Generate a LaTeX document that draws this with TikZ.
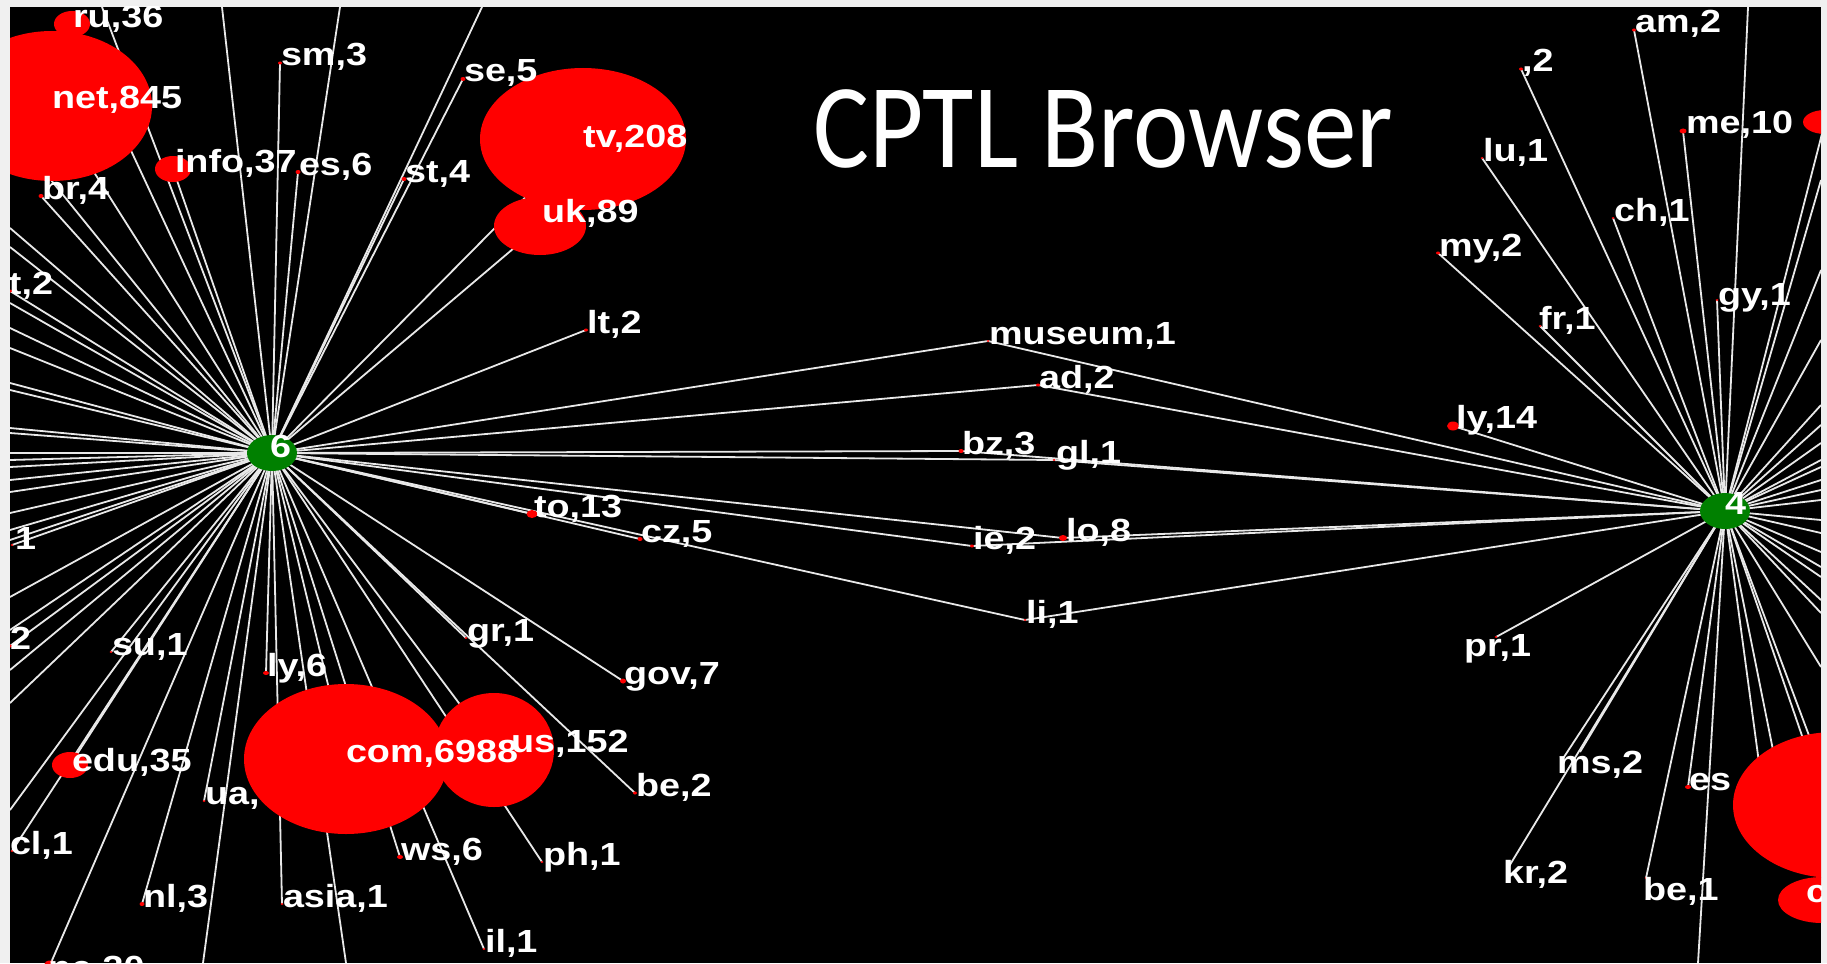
\documentclass[tikz,border=0pt]{standalone}
\usepackage{fontspec}
\setmainfont{Liberation Sans}
\newfontfamily\lblfont[FakeStretch=1.18]{Liberation Sans}
\newfontfamily\titlefont[FakeStretch=0.875]{Carlito}
\usetikzlibrary{shapes.geometric}
\definecolor{framegray}{RGB}{240,240,240}
\definecolor{linkgray}{RGB}{232,232,232}
\definecolor{hubgreen}{RGB}{0,128,0}
\definecolor{blobred}{RGB}{255,0,0}
\pgfdeclarelayer{back}
\pgfdeclarelayer{links}
\pgfsetlayers{back,links,main}
\tikzset{
  lnk/.style={draw=linkgray, line width=1.8pt},
  lbl/.style={anchor=base west, inner sep=0pt, outer sep=0pt, text=white, font=\lblfont\bfseries\fontsize{32}{32}\selectfont},
  hub/.style={ellipse, fill=hubgreen, minimum width=50pt, minimum height=36pt, inner sep=0pt},
  blob/.style={ellipse, fill=blobred, inner sep=0pt, outer sep=0pt},
  ttl/.style={anchor=base, inner sep=0pt, text=white, font=\titlefont\fontsize{120}{120}\selectfont},
}
\newcommand\dotnode[5]{\node[blob,minimum width=#4pt,minimum height=#5pt] (#1) at (#2,#3) {};}
\begin{document}
\begin{tikzpicture}[x=1pt,y=-1pt]
\useasboundingbox (0,0) rectangle (1827,963);
\begin{pgfonlayer}{back}
\fill[framegray] (0,0) rectangle (1827,963);
\fill[black] (10,7) rectangle (1821,963);
\end{pgfonlayer}
\begin{scope}
\clip (10,7) rectangle (1821,963);
% hubs
\node[hub] (h6) at (272,453) {};
\node[hub] (h4) at (1725,511) {};
\node[lbl] (h6-t) at (270,457) {6};
\node[lbl] (h4-t) at (1725,514) {4};
% label drawn beneath the com circle
\node[lbl] (ua-t) at (205,804) {ua,};
% blobs, left hub
\dotnode{ru}{72}{24}{36}{26}
\dotnode{net}{52}{106}{200}{150}
\dotnode{info}{173}{169}{36}{26}
\dotnode{sm}{280}{63}{4}{3}
\dotnode{es6}{298}{172}{5}{4}
\dotnode{se}{463}{79}{5}{4}
\dotnode{st}{404}{179}{5}{4}
\dotnode{tv}{583}{139}{206}{142}
\dotnode{uk}{540}{226}{92}{58}
\dotnode{br}{41}{196}{5}{4}
\dotnode{t2}{10}{291}{4}{3}
\dotnode{lt}{586}{330}{4}{3}
\dotnode{museum}{988}{341}{3}{2}
\dotnode{ad}{1038}{385}{4}{3}
\dotnode{bz}{961}{451}{5}{4}
\dotnode{gl}{1054}{460}{3}{2}
\dotnode{to}{532}{514}{11}{8}
\dotnode{cz}{640}{539}{5}{4}
\dotnode{ie}{972}{546}{4}{3}
\dotnode{lo}{1063}{538}{8}{6}
\dotnode{li}{1025}{620}{3}{2}
\dotnode{one}{12}{545}{3}{2}
\dotnode{two}{10}{646}{4}{3}
\dotnode{su}{111}{652}{3}{2}
\dotnode{ly6}{266}{673}{6}{4}
\dotnode{gr}{466}{638}{3}{2}
\dotnode{gov}{623}{681}{6}{5}
\dotnode{us}{494}{750}{120}{114}
\dotnode{com}{346}{759}{204}{150}
\dotnode{edu}{70}{765}{36}{26}
\dotnode{ua}{204}{801}{3}{2}
\dotnode{be2}{635}{793}{4}{3}
\dotnode{cl}{12}{851}{3}{2}
\dotnode{ws}{400}{857}{6}{4}
\dotnode{ph}{542}{862}{3}{2}
\dotnode{nl}{142}{904}{5}{4}
\dotnode{asia}{282}{904}{3}{2}
\dotnode{il}{484}{949}{3}{2}
\dotnode{ne}{50}{965}{12}{9}
% blobs, right hub
\dotnode{cm2}{1521}{69}{4}{3}
\dotnode{am}{1634}{30}{4}{3}
\dotnode{me}{1683}{131}{7}{5}
\dotnode{lu}{1482}{158}{3}{2}
\dotnode{ch}{1613}{218}{3}{2}
\dotnode{my}{1438}{253}{4}{3}
\dotnode{gy}{1717}{300}{3}{2}
\dotnode{fr}{1540}{326}{3}{2}
\dotnode{ly14}{1453}{426}{12}{9}
\dotnode{pr}{1496}{637}{3}{2}
\dotnode{ms}{1562}{760}{4}{3}
\dotnode{kr}{1508}{868}{4}{3}
\dotnode{es4}{1688}{787}{6}{4}
\dotnode{be1}{1646}{878}{3}{2}
\dotnode{bigR}{1835}{805}{204}{146}
\dotnode{smR}{1822}{900}{88}{46}
\dotnode{meR}{1825}{122}{44}{24}
% labels
\node[lbl] (ru-t) at (73,28) {ru,36};
\node[lbl] (net-t) at (52,109) {net,845};
\node[lbl] (info-t) at (175,172) {info,37};
\node[lbl] (sm-t) at (281,66) {sm,3};
\node[lbl] (es6-t) at (299,175) {es,6};
\node[lbl] (se-t) at (464,82) {se,5};
\node[lbl] (st-t) at (405,182) {st,4};
\node[lbl] (tv-t) at (583,147) {tv,208};
\node[lbl] (uk-t) at (542,222) {uk,89};
\node[lbl] (br-t) at (42,199) {br,4};
\node[lbl] (t2-t) at (9,294) {t,2};
\node[lbl] (lt-t) at (587,333) {lt,2};
\node[lbl] (museum-t) at (989,344) {museum,1};
\node[lbl] (ad-t) at (1039,388) {ad,2};
\node[lbl] (bz-t) at (962,454) {bz,3};
\node[lbl] (gl-t) at (1056,463) {gl,1};
\node[lbl] (to-t) at (534,517) {to,13};
\node[lbl] (cz-t) at (641,542) {cz,5};
\node[lbl] (ie-t) at (973,549) {ie,2};
\node[lbl] (lo-t) at (1066,541) {lo,8};
\node[lbl] (li-t) at (1026,623) {li,1};
\node[lbl] (one-t) at (15,549) {1};
\node[lbl] (two-t) at (10,649) {2};
\node[lbl] (su-t) at (112,655) {su,1};
\node[lbl] (ly6-t) at (267,676) {ly,6};
\node[lbl] (gr-t) at (467,641) {gr,1};
\node[lbl] (gov-t) at (624,684) {gov,7};
\node[lbl] (us-t) at (511,752) {us,152};
\node[lbl] (com-t) at (346,762) {com,6988};
\node[lbl] (edu-t) at (72,771) {edu,35};
\node[lbl] (be2-t) at (636,796) {be,2};
\node[lbl] (cl-t) at (10,854) {cl,1};
\node[lbl] (ws-t) at (401,860) {ws,6};
\node[lbl] (ph-t) at (543,865) {ph,1};
\node[lbl] (nl-t) at (143,907) {nl,3};
\node[lbl] (asia-t) at (283,907) {asia,1};
\node[lbl] (il-t) at (485,952) {il,1};
\node[lbl] (ne-t) at (48,978) {ne,30};
\node[lbl] (cm2-t) at (1522,72) {,2};
\node[lbl] (am-t) at (1635,33) {am,2};
\node[lbl] (me-t) at (1686,134) {me,10};
\node[lbl] (lu-t) at (1483,161) {lu,1};
\node[lbl] (ch-t) at (1614,221) {ch,1};
\node[lbl] (my-t) at (1439,256) {my,2};
\node[lbl] (gy-t) at (1718,305) {gy,1};
\node[lbl] (fr-t) at (1539,329) {fr,1};
\node[lbl] (ly14-t) at (1456,428) {ly,14};
\node[lbl] (pr-t) at (1464,656) {pr,1};
\node[lbl] (ms-t) at (1557,773) {ms,2};
\node[lbl] (kr-t) at (1503,883) {kr,2};
\node[lbl] (es4-t) at (1689,790) {es};
\node[lbl] (be1-t) at (1643,900) {be,1};
\node[lbl] (smR-t) at (1806,902) {c};
% title
\node[ttl] (title) at (1103,167) {CPTL Browser};
% free ends of connectors leaving the view
\foreach \n/\x/\y in {p6t1/102/7, p6t2/222/7, p6t3/340/7, p6t4/482/7, p6n/4/122,
  p6l1/10/228, p6l2/10/247, p6l3/10/303, p6l4/10/328, p6l5/10/348, p6l6/10/383,
  p6l7/10/390, p6l8/10/428, p6l9/10/433, p6l10/10/453, p6l11/10/460, p6l12/10/467,
  p6l13/10/480, p6l14/10/492, p6l15/10/513, p6l16/10/530, p6l17/10/540, p6l18/10/597,
  p6l19/10/630, p6l20/10/670, p6l21/10/703, p6l22/10/810, p6b1/203/963, p6b2/346/963,
  p4t1/1748/7, p4r1/1821/180, p4r2/1821/270, p4r3/1821/340, p4r4/1821/405,
  p4r5/1821/425, p4r6/1821/443, p4r7/1821/460, p4r8/1821/467, p4r9/1821/480,
  p4r10/1821/490, p4r11/1821/500, p4r12/1821/520, p4r13/1821/533, p4r14/1821/552,
  p4r15/1821/567, p4r16/1821/577, p4r17/1821/600, p4r18/1821/613, p4r19/1821/667,
  p4c1/1762/785, p4c2/1778/775, p4c3/1812/765, p4b1/1698/963, p4m/1580/752}
  \coordinate (\n) at (\x,\y);
\end{scope}
\begin{pgfonlayer}{links}
\begin{scope}
\clip (10,7) rectangle (1821,963);
\foreach \e in {ru,net,info,sm,es6,se,st,tv,uk,br,t2,lt,museum,ad,bz,gl,to,cz,ie,lo,li,
  one,two,su,ly6,gr,gov,us,com,edu,ua,be2,cl,ws,ph,nl,asia,il,ne,
  p6t1,p6t2,p6t3,p6t4,p6n,p6l1,p6l2,p6l3,p6l4,p6l5,p6l6,p6l7,p6l8,p6l9,p6l10,p6l11,
  p6l12,p6l13,p6l14,p6l15,p6l16,p6l17,p6l18,p6l19,p6l20,p6l21,p6l22,p6b1,p6b2}
  \draw[lnk] (h6.center) -- (\e.center);
\foreach \e in {museum,ad,bz,gl,ie,lo,li,ly14,cm2,am,me,lu,ch,my,gy,fr,pr,ms,kr,es4,be1,
  bigR,meR,p4t1,p4r1,p4r2,p4r3,p4r4,p4r5,p4r6,p4r7,p4r8,p4r9,p4r10,p4r11,p4r12,p4r13,
  p4r14,p4r15,p4r16,p4r17,p4r18,p4r19,p4c1,p4c2,p4c3,p4b1,p4m}
  \draw[lnk] (h4.center) -- (\e.center);
\end{scope}
\end{pgfonlayer}
\end{tikzpicture}
\end{document}
